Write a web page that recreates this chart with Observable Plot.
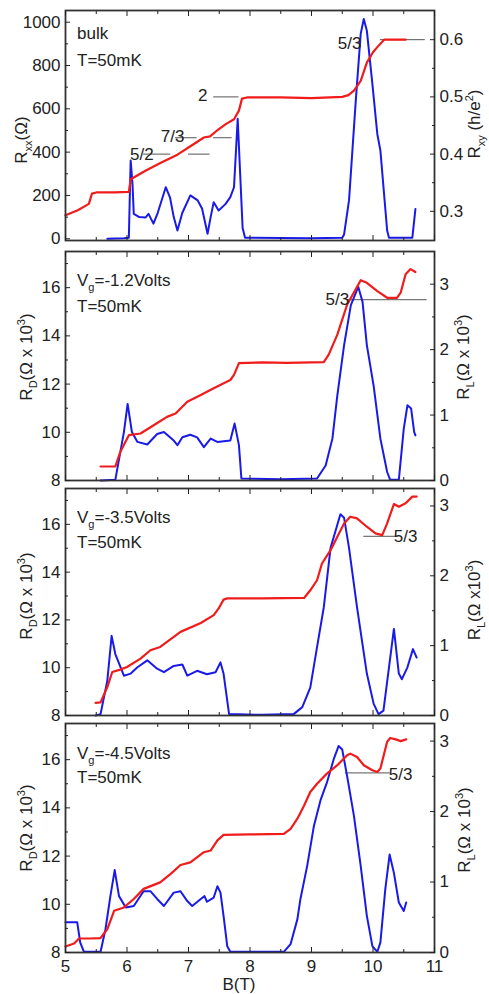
<!DOCTYPE html>
<html><head><meta charset="utf-8">
<script src="https://cdn.jsdelivr.net/npm/d3@7"></script>
<script src="https://cdn.jsdelivr.net/npm/@observablehq/plot@0.6"></script>
<style>
body{margin:0;background:#fff;}
#chart{position:relative;width:489px;height:994px;}
#chart svg{position:absolute;left:0;overflow:visible;background:none;}
</style>
</head><body><div id="chart"></div>
<script>
// ---- data (B in tesla) ----
const xMajor = [5, 6, 7, 8, 9, 10, 11];
const xMinor = [5.5, 6.5, 7.5, 8.5, 9.5, 10.5];
const xTitle = "B(T)";

// panel 1: bulk, Rxy (h/e^2, right axis) red, Rxx (ohm, left axis) blue
const bulkRxy = [[5.0,0.293],[5.2,0.302],[5.38,0.313],[5.43,0.331],[5.5,0.333],[5.8,0.333],[6.03,0.334],[6.06,0.356],[6.3,0.371],[6.55,0.385],[6.82,0.399],[7.05,0.415],[7.25,0.429],[7.35,0.431],[7.45,0.440],[7.6,0.452],[7.74,0.461],[7.82,0.476],[7.87,0.497],[7.95,0.499],[8.5,0.499],[9.0,0.498],[9.5,0.500],[9.6,0.503],[9.69,0.511],[9.8,0.528],[9.9,0.56],[10.0,0.578],[10.07,0.587],[10.18,0.6],[10.53,0.6]];
const bulkRxx = [[5.68,0],[5.95,2],[6.03,5],[6.05,250],[6.06,361],[6.09,250],[6.11,115],[6.2,100],[6.3,98],[6.35,115],[6.43,70],[6.5,120],[6.63,238],[6.7,190],[6.76,100],[6.82,38],[6.9,120],[7.03,200],[7.15,177],[7.22,140],[7.31,23],[7.36,100],[7.41,169],[7.49,131],[7.6,160],[7.68,192],[7.74,238],[7.8,554],[7.84,300],[7.88,50],[7.92,5],[8.5,3],[9.0,2],[9.5,5],[9.53,20],[9.61,177],[9.72,638],[9.8,946],[9.85,1015],[9.9,961],[9.99,715],[10.07,484],[10.12,408],[10.23,38],[10.26,5],[10.64,5],[10.69,138]];

// panels 2-4: RD (kOhm, left axis) red, RL (kOhm, right axis) blue
const vg12RD = [[5.57,8.58],[5.81,8.58],[5.89,9.18],[6.03,9.88],[6.22,9.95],[6.44,10.3],[6.65,10.64],[6.79,10.78],[6.98,11.27],[7.2,11.55],[7.41,11.83],[7.68,12.17],[7.74,12.38],[7.82,12.87],[8.2,12.9],[8.6,12.88],[9.2,12.91],[9.28,13.22],[9.42,14.05],[9.58,15.3],[9.8,16.31],[9.9,16.2],[10.07,15.86],[10.23,15.58],[10.39,15.58],[10.45,15.79],[10.53,16.56],[10.61,16.77],[10.69,16.65]];
const vg12RL = [[5.57,0],[5.81,0.01],[5.95,0.74],[6.01,1.17],[6.08,0.74],[6.17,0.59],[6.33,0.55],[6.49,0.71],[6.6,0.74],[6.76,0.61],[6.82,0.54],[6.9,0.66],[7.03,0.70],[7.14,0.66],[7.25,0.51],[7.36,0.64],[7.47,0.59],[7.68,0.61],[7.75,0.87],[7.82,0.54],[7.86,0.03],[8.5,0.02],[9.09,0.03],[9.23,0.23],[9.34,0.64],[9.42,1.3],[9.53,2.07],[9.64,2.68],[9.76,2.96],[9.83,2.73],[9.9,2.07],[10.01,1.45],[10.12,0.64],[10.23,0.13],[10.28,0.01],[10.42,0.01],[10.5,0.79],[10.56,1.15],[10.62,1.1],[10.67,0.74],[10.69,0.69]];

const vg35RD = [[5.49,8.53],[5.57,8.55],[5.68,9.19],[5.76,9.82],[5.89,9.92],[6.0,10.03],[6.22,10.38],[6.38,10.73],[6.54,10.87],[6.76,11.29],[6.87,11.5],[7.2,11.87],[7.41,12.2],[7.49,12.48],[7.57,12.85],[7.63,12.9],[8.2,12.9],[8.88,12.92],[8.98,13.24],[9.09,13.66],[9.17,14.36],[9.31,14.92],[9.42,15.48],[9.53,16.04],[9.63,16.32],[9.74,16.25],[9.9,15.9],[10.04,15.62],[10.15,15.55],[10.23,16.04],[10.34,16.85],[10.42,16.74],[10.53,16.88],[10.64,17.16],[10.71,17.16]];
const vg35RL = [[5.49,0],[5.57,0.02],[5.68,0.5],[5.75,1.14],[5.81,0.88],[5.95,0.57],[6.06,0.6],[6.17,0.69],[6.33,0.79],[6.49,0.67],[6.6,0.62],[6.76,0.71],[6.9,0.73],[6.98,0.57],[7.14,0.64],[7.3,0.59],[7.44,0.62],[7.52,0.76],[7.57,0.6],[7.66,0.02],[8.2,0.01],[8.71,0.02],[8.85,0.12],[8.98,0.4],[9.09,0.98],[9.2,1.55],[9.31,2.4],[9.47,2.88],[9.53,2.83],[9.61,2.4],[9.74,1.55],[9.9,0.6],[10.01,0.17],[10.09,0.02],[10.17,0.07],[10.26,0.69],[10.34,1.24],[10.42,0.6],[10.47,0.52],[10.56,0.69],[10.65,0.95],[10.71,0.83]];

const vg45RD = [[5.0,8.25],[5.14,8.37],[5.22,8.58],[5.4,8.58],[5.57,8.6],[5.68,8.97],[5.79,9.73],[5.95,9.87],[6.11,10.22],[6.27,10.64],[6.54,10.91],[6.71,11.26],[6.87,11.63],[7.03,11.74],[7.25,12.16],[7.36,12.23],[7.47,12.65],[7.57,12.88],[8.0,12.9],[8.55,12.92],[8.66,13.13],[8.77,13.55],[8.88,14.1],[8.98,14.66],[9.09,15.0],[9.25,15.42],[9.42,15.77],[9.58,16.18],[9.63,16.25],[9.74,16.11],[9.85,15.77],[9.99,15.56],[10.07,15.49],[10.12,15.63],[10.23,16.74],[10.28,16.9],[10.37,16.84],[10.45,16.77],[10.54,16.84]];
const vg45RL = [[5.0,0.43],[5.19,0.43],[5.24,0.14],[5.3,0.01],[5.57,0.01],[5.65,0.33],[5.73,0.8],[5.8,1.17],[5.87,0.8],[5.98,0.64],[6.11,0.66],[6.27,0.87],[6.38,0.87],[6.49,0.76],[6.6,0.66],[6.76,0.85],[6.87,0.87],[6.98,0.73],[7.06,0.66],[7.2,0.76],[7.26,0.8],[7.3,0.72],[7.41,0.78],[7.47,0.94],[7.52,0.85],[7.57,0.52],[7.63,0.09],[7.68,0.01],[8.55,0.01],[8.66,0.12],[8.77,0.47],[8.82,0.76],[8.93,1.23],[9.04,1.8],[9.15,2.17],[9.25,2.41],[9.36,2.74],[9.44,2.93],[9.5,2.88],[9.58,2.5],[9.69,1.94],[9.8,1.23],[9.9,0.52],[9.99,0.09],[10.07,0.01],[10.12,0.14],[10.2,0.9],[10.27,1.39],[10.34,1.13],[10.42,0.71],[10.5,0.59],[10.54,0.71]];

// filling-factor level markers: [B start, B end, level] and labels
const bulkLevels = [[6.27,6.71,0.4],[7.0,7.35,0.4],[6.79,7.14,0.4286],[7.41,7.71,0.4286],[7.41,7.82,0.5],[10.12,10.85,0.6]];
const bulkLabels = [{t:"5/2",b:6.24,v:0.4,a:"end"},{t:"7/3",b:6.74,v:0.431,a:"end"},{t:"2",b:7.23,v:0.502,a:"end"},{t:"5/3",b:9.62,v:0.593,a:"end"}];
const vg12Levels = [[9.58,10.88,15.5]];
const vg12Labels = [{t:"5/3",b:9.42,v:15.51,a:"end"}];
const vg35Levels = [[9.85,10.42,15.5]];
const vg35Labels = [{t:"5/3",b:10.53,v:15.48,a:"start"}];
const vg45Levels = [[9.55,10.28,15.45]];
const vg45Labels = [{t:"5/3",b:10.45,v:15.38,a:"start"}];

const RED = "#f01c1c", BLUE = "#1a1ae8", INK = "#222";

const panels = [
  {top:0, height:245, mt:10, mb:5, left:[-8,1054], right:[0.249,0.651],
   leftMajor:[0,200,400,600,800,1000], leftMinor:[100,300,500,700,900],
   rightMajor:[0.3,0.4,0.5,0.6], rightMinor:[0.35,0.45,0.55],
   red:bulkRxy, redRight:true, blue:bulkRxx, blueRight:false, levRight:true,
   levels:bulkLevels, labels:bulkLabels,
   notes:[{parts:[["bulk"]],y:39},{parts:[["T=50mK"]],y:66}],
   leftTitle:{parts:[["R"],["xx","sub"],["(Ω)"]],x:27,y:140},
   rightTitle:{parts:[["R"],["xy","sub"],[" (h/e"],["2","sup"],[")"]],x:480,y:124}},
  {top:245, height:240, mt:6, mb:5, left:[8,17.5], right:[0,3.5],
   leftMajor:[8,10,12,14,16], leftMinor:[9,11,13,15,17],
   rightMajor:[0,1,2,3], rightMinor:[0.5,1.5,2.5],
   red:vg12RD, redRight:false, blue:vg12RL, blueRight:true, levRight:false,
   levels:vg12Levels, labels:vg12Labels,
   notes:[{parts:[["V"],["g","sub"],["=-1.2Volts"]],y:41},{parts:[["T=50mK"]],y:67}],
   leftTitle:{parts:[["R"],["D","sub"],["(Ω x 10"],["3","sup"],[")"]],x:32,y:112},
   rightTitle:{parts:[["R"],["L","sub"],["(Ω x 10"],["3","sup"],[")"]],x:469,y:112}},
  {top:485, height:235, mt:3, mb:5, left:[8,17.5], right:[0,3.25],
   leftMajor:[8,10,12,14,16], leftMinor:[9,11,13,15,17],
   rightMajor:[0,1,2,3], rightMinor:[0.5,1.5,2.5],
   red:vg35RD, redRight:false, blue:vg35RL, blueRight:true, levRight:false,
   levels:vg35Levels, labels:vg35Labels,
   notes:[{parts:[["V"],["g","sub"],["=-3.5Volts"]],y:38},{parts:[["T=50mK"]],y:63}],
   leftTitle:{parts:[["R"],["D","sub"],["(Ω x 10"],["3","sup"],[")"]],x:32,y:111},
   rightTitle:{parts:[["R"],["L","sub"],["(Ω x10"],["3","sup"],[")"]],x:480,y:115}},
  {top:720, height:274, mt:3, mb:42, left:[8,17.5], right:[0,3.25],
   leftMajor:[8,10,12,14,16], leftMinor:[9,11,13,15,17],
   rightMajor:[0,1,2,3], rightMinor:[0.5,1.5,2.5],
   red:vg45RD, redRight:false, blue:vg45RL, blueRight:true, levRight:false,
   levels:vg45Levels, labels:vg45Labels,
   notes:[{parts:[["V"],["g","sub"],["=-4.5Volts"]],y:39},{parts:[["T=50mK"]],y:63}],
   leftTitle:{parts:[["R"],["D","sub"],["(Ω x 10"],["3","sup"],[")"]],x:32,y:108},
   rightTitle:{parts:[["R"],["L","sub"],["(Ω x 10"],["3","sup"],[")"]],x:470,y:110}}
];

const FONT = '"Liberation Sans", Arial, sans-serif';
const FS = 17;

function richText(svg, {parts, x, y, rotate = 0, anchor = "start"}) {
  const t = d3.select(svg).append("text")
    .attr("font-family", FONT).attr("font-size", FS).attr("fill", INK)
    .attr("text-anchor", anchor)
    .attr("transform", `translate(${x},${y})` + (rotate ? ` rotate(${rotate})` : ""));
  let shift = 0;
  for (const [s, kind] of parts) {
    const target = kind === "sub" ? 5 : kind === "sup" ? -7 : 0;
    t.append("tspan").attr("dy", target - shift)
      .attr("font-size", kind ? Math.round(FS * 0.62) : FS).text(s);
    shift = target;
  }
}

const chart = document.getElementById("chart");
const blank = () => "";

panels.forEach((p, k) => {
  const last = k === panels.length - 1;
  const [l0, l1] = p.left, [r0, r1] = p.right;
  const toL = v => l0 + (v - r0) * (l1 - l0) / (r1 - r0);
  const fromL = v => r0 + (v - l0) * (r1 - r0) / (l1 - l0);
  const redY = d => p.redRight ? toL(d[1]) : d[1];
  const blueY = d => p.blueRight ? toL(d[1]) : d[1];
  const levY = v => p.levRight ? toL(v) : v;

  const svg = Plot.plot({
    width: 489, height: p.height,
    marginLeft: 65, marginRight: 55, marginTop: p.mt, marginBottom: p.mb,
    style: {fontFamily: FONT, fontSize: FS + "px", background: "none", overflow: "visible", color: INK},
    x: {domain: [5, 11]},
    y: {domain: p.left},
    marks: [
      Plot.ruleY(p.levels, {x1: d => d[0], x2: d => d[1], y: d => levY(d[2]), stroke: "#555", strokeWidth: 1}),
      Plot.line(p.blue, {x: d => d[0], y: blueY, stroke: BLUE, strokeWidth: 2}),
      Plot.line(p.red, {x: d => d[0], y: redY, stroke: RED, strokeWidth: 2.2}),
      Plot.text(p.labels, {x: d => d.b, y: d => levY(d.v), text: d => d.t, textAnchor: d => d.a, fill: INK, fontSize: FS}),
      Plot.frame({stroke: "#333", strokeWidth: 1.8}),
      Plot.axisY(p.leftMajor, {anchor: "left", tickSize: -5, tickPadding: 10, label: null, tickFormat: d => String(d)}),
      Plot.axisY(p.leftMinor, {anchor: "left", tickSize: -3, label: null, tickFormat: blank}),
      Plot.axisY(p.rightMajor.map(toL), {anchor: "right", tickSize: -5, tickPadding: 10, label: null,
        tickFormat: d => String(+fromL(d).toFixed(2))}),
      Plot.axisY(p.rightMinor.map(toL), {anchor: "right", tickSize: -3, label: null, tickFormat: blank}),
      Plot.axisX(xMajor, {anchor: "bottom", tickSize: -5, tickPadding: 12, label: null,
        tickFormat: last ? (d => String(d)) : blank}),
      Plot.axisX(xMinor, {anchor: "bottom", tickSize: -3, label: null, tickFormat: blank}),
      Plot.axisX(xMajor, {anchor: "top", tickSize: -5, label: null, tickFormat: blank}),
      Plot.axisX(xMinor, {anchor: "top", tickSize: -3, label: null, tickFormat: blank})
    ]
  });
  svg.style.top = p.top + "px";
  chart.appendChild(svg);

  p.notes.forEach(n => richText(svg, {parts: n.parts, x: 77, y: n.y}));
  richText(svg, {...p.leftTitle, rotate: -90, anchor: "middle"});
  richText(svg, {...p.rightTitle, rotate: -90, anchor: "middle"});
  if (last) richText(svg, {parts: [[xTitle]], x: 239, y: p.height - 4, anchor: "middle"});
});
</script>
</body></html>
